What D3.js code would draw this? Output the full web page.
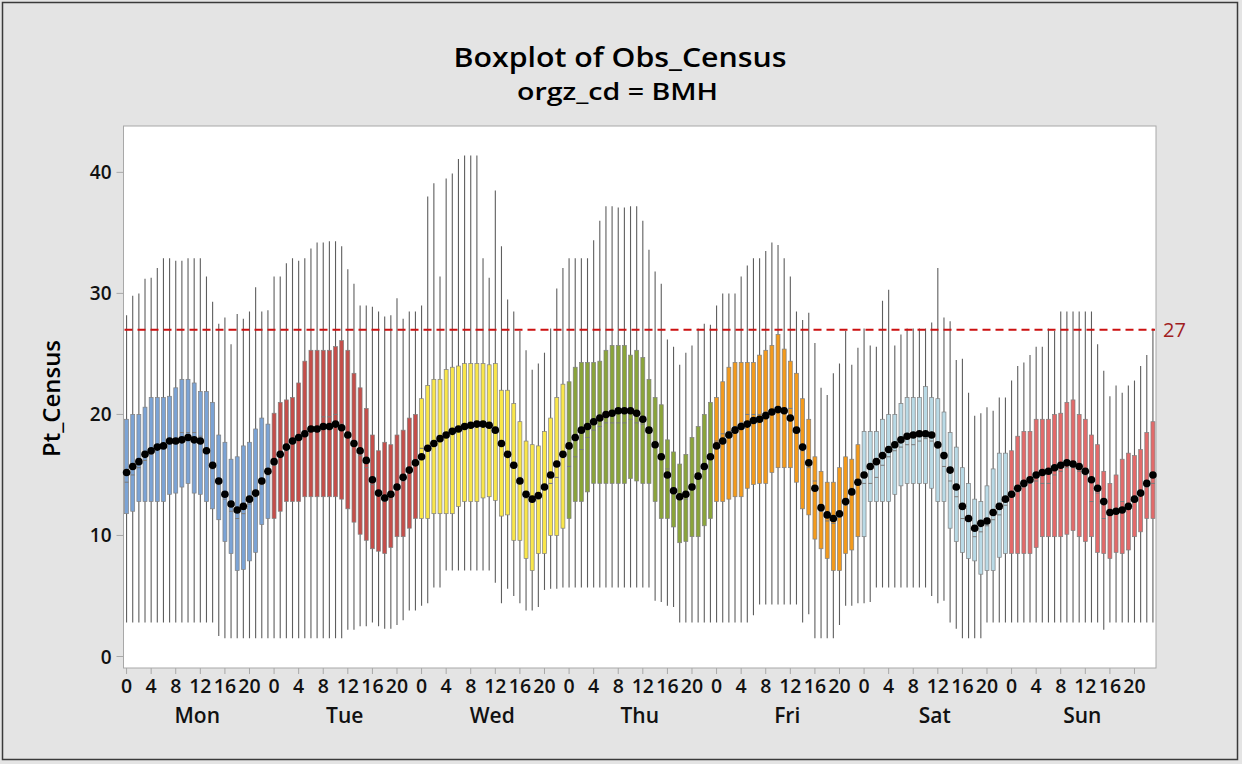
<!DOCTYPE html>
<html>
<head>
<meta charset="utf-8">
<script src="https://cdn.jsdelivr.net/npm/d3@7"></script>
<style>
  html, body { margin: 0; padding: 0; background: #e4e4e4; }
  svg { display: block; font-family: 'Open Sans', 'DejaVu Sans', sans-serif; }
</style>
</head>
<body>
<svg id="chart" width="1242" height="764"></svg>
<script>
// chart values, one row per day (hours 0..23)
const days = ['Mon', 'Tue', 'Wed', 'Thu', 'Fri', 'Sat', 'Sun'];
const dayColors = ['#7ba3d5', '#c44e4a', '#f9e64a', '#8aa43a', '#f39a1c', '#b9dae6', '#e26a6a'];
const hourTicks = [0, 4, 8, 12, 16, 20];
const yTicks = [0, 10, 20, 30, 40];
const refValue = 27;

const q3 = [
  19.6, 20.0, 20.0, 20.6, 21.4, 21.4, 21.4, 21.5, 22.2, 22.9, 22.9, 22.6, 21.9, 21.9, 21.0, 18.3, 17.7, 16.3, 16.5, 17.4, 17.7, 18.8, 19.7, 19.2,
  20.1, 21.0, 21.2, 21.4, 22.6, 24.4, 25.3, 25.3, 25.3, 25.3, 25.6, 26.1, 25.3, 23.4, 22.2, 20.5, 18.3, 17.0, 17.7, 17.5, 18.3, 18.7, 19.7, 20.0,
  21.3, 22.4, 22.9, 22.9, 23.7, 23.9, 24.0, 24.2, 24.2, 24.2, 24.2, 24.1, 24.2, 22.0, 22.0, 20.9, 19.4, 17.8, 17.5, 17.4, 18.6, 19.7, 21.4, 22.5,
  22.7, 23.9, 24.3, 24.3, 24.3, 24.4, 25.3, 25.7, 25.7, 25.7, 24.9, 25.3, 24.7, 22.9, 21.4, 20.8, 17.9, 16.9, 15.9, 16.7, 18.1, 19.0, 20.0, 21.0,
  21.4, 22.7, 23.9, 24.3, 24.3, 24.3, 24.3, 24.9, 25.3, 25.7, 26.6, 25.4, 24.4, 23.4, 21.3, 19.6, 16.5, 15.3, 14.4, 14.4, 15.6, 16.5, 16.3, 17.5,
  18.6, 18.6, 18.6, 19.6, 20.0, 20.0, 20.9, 21.4, 21.4, 21.4, 22.3, 21.4, 21.3, 20.2, 18.5, 17.3, 15.6, 14.3, 13.0, 12.8, 14.1, 15.5, 16.8, 16.8,
  17.0, 18.2, 18.6, 18.6, 19.6, 19.6, 19.6, 20.0, 20.1, 21.0, 21.2, 20.0, 19.6, 18.3, 17.5, 15.3, 14.3, 15.0, 16.3, 16.8, 16.6, 17.1, 18.5, 19.4
];
const q1 = [
  11.8, 12.0, 12.8, 12.8, 12.8, 12.8, 12.8, 13.4, 13.5, 14.0, 14.3, 13.5, 13.4, 12.8, 12.2, 11.3, 9.5, 8.5, 7.1, 7.2, 7.9, 8.6, 10.9, 11.4,
  11.4, 12.0, 12.8, 12.8, 12.8, 13.2, 13.2, 13.2, 13.2, 13.2, 13.2, 13.0, 12.2, 11.1, 10.1, 9.6, 8.9, 8.7, 8.5, 9.0, 9.9, 9.9, 10.6, 11.4,
  11.4, 11.4, 11.8, 11.8, 11.8, 11.8, 12.4, 12.8, 12.8, 12.8, 13.1, 13.2, 12.9, 11.6, 11.7, 9.6, 9.6, 8.1, 7.1, 8.5, 8.5, 10.0, 10.0, 10.6,
  11.4, 12.8, 12.8, 13.6, 14.3, 14.3, 14.3, 14.3, 14.3, 14.3, 14.7, 14.5, 14.3, 14.3, 12.8, 11.4, 11.4, 10.7, 9.4, 9.5, 9.9, 9.9, 10.8, 11.4,
  12.8, 12.8, 13.0, 13.2, 13.2, 13.9, 14.2, 14.3, 14.3, 15.2, 15.6, 15.6, 15.6, 14.4, 12.2, 11.7, 9.7, 8.9, 8.1, 7.1, 7.1, 8.5, 8.8, 9.9,
  9.9, 12.8, 12.8, 12.8, 12.8, 13.4, 14.1, 14.3, 14.3, 14.3, 14.3, 13.9, 12.8, 12.8, 10.6, 9.5, 8.6, 8.1, 7.9, 6.8, 7.1, 7.1, 8.2, 8.5,
  8.5, 8.5, 8.5, 8.5, 9.0, 9.9, 9.9, 9.9, 9.9, 10.1, 10.4, 9.9, 9.5, 9.9, 8.6, 8.5, 8.1, 8.6, 8.5, 8.8, 9.9, 10.3, 11.4, 11.4
];
const medians = [
  14.4, 15.0, 15.6, 16.2, 16.7, 17.1, 17.3, 17.9, 18.0, 18.5, 18.5, 18.5, 18.2, 16.9, 15.5, 14.2, 13.0, 12.0, 11.4, 11.8, 12.6, 13.2, 14.2, 15.0,
  15.8, 16.5, 17.0, 17.6, 18.0, 18.5, 19.0, 19.0, 19.8, 19.8, 20.0, 19.2, 18.3, 17.4, 16.6, 15.6, 14.2, 13.3, 12.8, 13.0, 13.8, 14.5, 15.2, 15.8,
  17.2, 17.3, 17.8, 18.2, 18.5, 18.8, 19.0, 19.2, 19.3, 19.4, 19.4, 19.3, 18.9, 17.8, 16.8, 15.7, 14.8, 13.1, 12.8, 13.0, 13.8, 14.3, 14.8, 16.5,
  15.7, 16.5, 17.1, 18.1, 18.7, 19.0, 19.3, 19.3, 19.3, 19.3, 19.6, 19.3, 19.2, 18.5, 17.8, 16.5, 15.5, 13.9, 13.0, 13.0, 13.8, 14.8, 15.5, 16.3,
  17.8, 18.4, 18.6, 19.0, 19.3, 20.0, 20.0, 20.0, 20.2, 20.4, 20.5, 20.5, 20.5, 18.8, 17.0, 15.6, 14.5, 12.0, 11.2, 11.0, 11.5, 12.5, 13.9, 14.2,
  14.3, 14.3, 14.8, 15.8, 16.5, 17.0, 17.3, 17.5, 17.5, 17.8, 18.0, 17.8, 17.2, 15.7, 14.5, 13.2, 11.4, 11.4, 9.9, 10.3, 10.8, 11.3, 11.7, 12.5,
  13.2, 13.6, 14.0, 14.3, 14.5, 14.3, 14.3, 15.0, 15.3, 15.6, 15.6, 15.3, 15.0, 12.8, 13.5, 11.4, 11.7, 11.9, 12.8, 12.3, 12.9, 13.3, 14.0, 14.3
];
const means = [
  15.2, 15.7, 16.1, 16.7, 17.0, 17.3, 17.4, 17.8, 17.8, 17.9, 18.1, 17.9, 17.8, 17.0, 15.8, 14.5, 13.4, 12.6, 12.1, 12.4, 13.0, 13.5, 14.5, 15.3,
  16.1, 16.7, 17.3, 17.8, 18.1, 18.4, 18.8, 18.8, 19.0, 19.0, 19.2, 18.9, 18.3, 17.6, 17.0, 16.2, 14.6, 13.5, 13.1, 13.4, 14.0, 14.8, 15.4, 16.0,
  16.5, 17.2, 17.6, 18.0, 18.3, 18.6, 18.8, 19.0, 19.1, 19.2, 19.2, 19.1, 18.7, 17.6, 16.7, 15.8, 14.5, 13.4, 13.0, 13.3, 14.0, 15.0, 15.9, 16.7,
  17.4, 18.1, 18.7, 19.0, 19.4, 19.7, 20.0, 20.1, 20.3, 20.3, 20.3, 20.1, 19.6, 18.7, 17.5, 16.5, 15.0, 13.7, 13.2, 13.4, 14.0, 14.9, 15.7, 16.5,
  17.4, 17.8, 18.3, 18.7, 19.0, 19.2, 19.5, 19.6, 19.9, 20.2, 20.4, 20.3, 19.7, 18.7, 17.3, 16.0, 13.9, 12.3, 11.7, 11.4, 11.8, 12.8, 13.6, 14.4,
  15.0, 15.7, 16.1, 16.6, 17.1, 17.5, 17.9, 18.2, 18.3, 18.4, 18.4, 18.3, 17.5, 16.6, 15.4, 14.0, 12.4, 11.4, 10.6, 11.0, 11.2, 11.9, 12.4, 13.0,
  13.4, 13.9, 14.3, 14.6, 15.0, 15.2, 15.3, 15.6, 15.8, 16.0, 15.9, 15.7, 15.3, 14.6, 13.9, 12.8, 11.9, 12.0, 12.1, 12.4, 13.0, 13.5, 14.3, 15.0
];
const whiskLo = [
  2.8, 2.8, 2.8, 2.8, 2.8, 2.8, 2.8, 2.8, 2.8, 2.8, 2.8, 2.8, 2.8, 2.8, 2.8, 1.7, 1.5, 1.5, 1.5, 1.5, 1.5, 1.5, 1.5, 1.5,
  1.5, 1.5, 1.5, 1.5, 1.5, 1.5, 1.5, 1.5, 1.5, 1.5, 1.5, 1.5, 2.2, 2.2, 2.5, 2.5, 2.8, 2.5, 2.3, 2.3, 2.6, 3.0, 3.8, 3.8,
  4.2, 4.4, 5.7, 5.7, 7.1, 7.1, 7.1, 7.1, 7.1, 7.1, 7.1, 7.1, 6.1, 4.4, 5.6, 5.0, 4.4, 3.8, 3.8, 4.1, 5.5, 5.6, 5.6, 5.7,
  5.7, 5.7, 5.7, 5.7, 5.7, 5.7, 5.7, 5.7, 5.7, 5.7, 5.7, 5.7, 5.7, 5.7, 4.6, 4.5, 4.2, 4.1, 2.8, 2.8, 2.8, 2.8, 2.8, 2.8,
  2.8, 2.8, 2.8, 2.8, 2.8, 2.8, 3.4, 4.3, 4.3, 4.3, 4.3, 4.3, 4.3, 4.3, 2.8, 3.5, 1.5, 1.5, 1.5, 1.5, 2.6, 4.2, 4.2, 4.4,
  4.4, 4.5, 5.7, 5.7, 5.7, 5.7, 5.7, 5.7, 5.7, 5.7, 5.7, 5.0, 4.4, 4.6, 2.8, 2.3, 1.5, 1.5, 1.5, 1.5, 2.8, 2.8, 2.8, 2.8,
  2.8, 2.8, 2.8, 2.8, 2.8, 2.8, 2.8, 2.8, 2.8, 2.8, 2.8, 2.8, 2.8, 2.8, 2.8, 2.2, 2.8, 2.8, 2.8, 2.8, 2.8, 2.8, 2.8, 2.8
];
const whiskHi = [
  28.2, 29.8, 30.0, 31.2, 31.3, 32.1, 32.9, 32.9, 32.7, 32.7, 32.9, 32.9, 32.9, 31.4, 29.3, 27.5, 28.0, 25.8, 28.3, 27.9, 28.5, 30.5, 28.5, 28.6,
  31.4, 31.4, 32.5, 32.9, 32.7, 32.9, 33.7, 34.2, 34.2, 34.3, 34.3, 33.9, 32.0, 30.8, 29.0, 29.0, 28.9, 28.5, 28.1, 28.2, 29.6, 27.9, 28.5, 28.5,
  29.0, 38.0, 39.1, 31.4, 39.5, 39.9, 41.1, 41.4, 41.4, 41.4, 32.9, 31.3, 38.5, 33.9, 29.5, 28.5, 26.9, 25.3, 23.7, 24.2, 25.1, 27.1, 30.4, 32.1,
  32.9, 32.9, 32.9, 32.9, 34.4, 36.0, 37.2, 37.2, 37.1, 37.1, 37.2, 37.2, 36.0, 33.6, 31.8, 30.8, 26.2, 25.6, 24.1, 25.1, 25.7, 27.1, 27.5, 27.4,
  29.0, 30.0, 30.0, 30.0, 31.4, 32.3, 32.9, 32.9, 33.5, 34.2, 34.0, 32.9, 31.4, 28.5, 27.8, 28.4, 25.9, 22.2, 21.6, 23.4, 24.2, 26.9, 24.1, 25.5,
  27.1, 25.7, 25.6, 29.4, 30.3, 25.7, 26.6, 27.1, 27.1, 27.1, 27.1, 27.6, 32.1, 28.0, 27.7, 24.5, 24.6, 21.8, 19.9, 20.1, 20.6, 20.3, 21.4, 21.4,
  22.8, 24.0, 24.3, 24.9, 25.6, 25.6, 27.1, 26.9, 28.5, 28.5, 28.5, 28.5, 28.5, 28.5, 25.8, 23.6, 21.5, 22.4, 21.8, 22.4, 22.8, 24.0, 24.9, 27.1
];

// one record per box
const boxes = d3.range(days.length * 24).map((i) => ({
  i,
  day: Math.floor(i / 24),
  hour: i % 24,
  q1: q1[i],
  q3: q3[i],
  med: medians[i],
  mean: means[i],
  lo: whiskLo[i],
  hi: whiskHi[i]
}));

const svg = d3.select('#chart');
const W = 1242;
const H = 764;
const plot = { left: 123.5, right: 1156, top: 126, bottom: 668 };
const ink = '#111';

// outer frame
svg.append('rect')
  .attr('x', 0).attr('y', 0).attr('width', W).attr('height', H)
  .attr('fill', '#e4e4e4');
svg.append('rect')
  .attr('x', 2.5).attr('y', 2.5).attr('width', 1235).attr('height', 757)
  .attr('fill', 'none').attr('stroke', '#3a3a3a').attr('stroke-width', 1.5);

// plot panel
svg.append('rect')
  .attr('x', plot.left).attr('y', plot.top)
  .attr('width', plot.right - plot.left).attr('height', plot.bottom - plot.top)
  .attr('fill', '#ffffff').attr('stroke', '#a8a8a8').attr('stroke-width', 1);

const x = d3.scaleBand()
  .domain(boxes.map((d) => d.i))
  .range([plot.left, plot.right])
  .paddingInner(0.36)
  .paddingOuter(0.18);
const cx = (i) => x(i) + x.bandwidth() / 2;

const y = d3.scaleLinear()
  .domain([-0.95, 43.83])
  .range([plot.bottom, plot.top]);

// whiskers
svg.append('g')
  .selectAll('line')
  .data(boxes)
  .join('line')
  .attr('x1', (d) => cx(d.i)).attr('x2', (d) => cx(d.i))
  .attr('y1', (d) => y(d.lo)).attr('y2', (d) => y(d.hi))
  .attr('stroke', '#5e5e5e')
  .attr('stroke-width', 1.1);

// reference line at 27
svg.append('line')
  .attr('x1', plot.left + 1).attr('x2', plot.right - 1)
  .attr('y1', y(refValue)).attr('y2', y(refValue))
  .attr('stroke', '#cc1111')
  .attr('stroke-width', 2)
  .attr('stroke-dasharray', '8,5');
svg.append('text')
  .attr('x', plot.right + 7).attr('y', y(refValue) + 7)
  .attr('fill', '#a0201e')
  .attr('font-size', 20)
  .text(refValue);

// boxes
svg.append('g')
  .selectAll('rect')
  .data(boxes)
  .join('rect')
  .attr('x', (d) => x(d.i))
  .attr('width', x.bandwidth())
  .attr('y', (d) => y(d.q3))
  .attr('height', (d) => y(d.q1) - y(d.q3))
  .attr('fill', (d) => dayColors[d.day])
  .attr('stroke', '#808080')
  .attr('stroke-width', 0.7);

// medians
svg.append('g')
  .selectAll('line')
  .data(boxes)
  .join('line')
  .attr('x1', (d) => x(d.i)).attr('x2', (d) => x(d.i) + x.bandwidth())
  .attr('y1', (d) => y(d.med)).attr('y2', (d) => y(d.med))
  .attr('stroke', '#7a7a7a')
  .attr('stroke-width', 1);

// mean symbols
svg.append('g')
  .selectAll('circle')
  .data(boxes)
  .join('circle')
  .attr('cx', (d) => cx(d.i))
  .attr('cy', (d) => y(d.mean))
  .attr('r', 3.8)
  .attr('fill', '#000');

// y axis
const yAxis = svg.append('g');
yTicks.forEach((t) => {
  yAxis.append('line')
    .attr('x1', plot.left - 7).attr('x2', plot.left)
    .attr('y1', y(t)).attr('y2', y(t))
    .attr('stroke', '#a8a8a8');
  yAxis.append('text')
    .attr('x', plot.left - 12).attr('y', y(t) + 7)
    .attr('text-anchor', 'end')
    .attr('font-size', 19)
    .attr('font-weight', 600)
    .attr('fill', ink)
    .text(t);
});

// x axis: hour ticks and day labels
const xAxis = svg.append('g');
days.forEach((dayName, di) => {
  hourTicks.forEach((h) => {
    const px = cx(di * 24 + h);
    xAxis.append('line')
      .attr('x1', px).attr('x2', px)
      .attr('y1', plot.bottom).attr('y2', plot.bottom + 6)
      .attr('stroke', '#a8a8a8');
    xAxis.append('text')
      .attr('x', px).attr('y', plot.bottom + 25)
      .attr('text-anchor', 'middle')
      .attr('font-size', 19.5)
      .attr('font-weight', 600)
      .attr('fill', ink)
      .text(h);
  });
  const mid = (cx(di * 24) + cx(di * 24 + 23)) / 2;
  xAxis.append('text')
    .attr('x', mid).attr('y', plot.bottom + 55)
    .attr('text-anchor', 'middle')
    .attr('font-size', 21)
    .attr('font-weight', 600)
    .attr('fill', ink)
    .text(dayName);
});

// titles
svg.append('text')
  .attr('x', 620).attr('y', 67)
  .attr('text-anchor', 'middle')
  .attr('font-size', 27)
  .attr('font-weight', 600)
  .attr('textLength', 333)
  .attr('lengthAdjust', 'spacingAndGlyphs')
  .attr('fill', '#000')
  .text('Boxplot of Obs_Census');
svg.append('text')
  .attr('x', 617.5).attr('y', 100)
  .attr('text-anchor', 'middle')
  .attr('font-size', 23)
  .attr('font-weight', 600)
  .attr('textLength', 201)
  .attr('lengthAdjust', 'spacingAndGlyphs')
  .attr('fill', '#000')
  .text('orgz_cd = BMH');
svg.append('text')
  .attr('transform', 'translate(60,398.5) rotate(-90)')
  .attr('text-anchor', 'middle')
  .attr('font-size', 23)
  .attr('font-weight', 600)
  .attr('textLength', 117)
  .attr('lengthAdjust', 'spacingAndGlyphs')
  .attr('fill', '#000')
  .text('Pt_Census');
</script>
</body>
</html>
